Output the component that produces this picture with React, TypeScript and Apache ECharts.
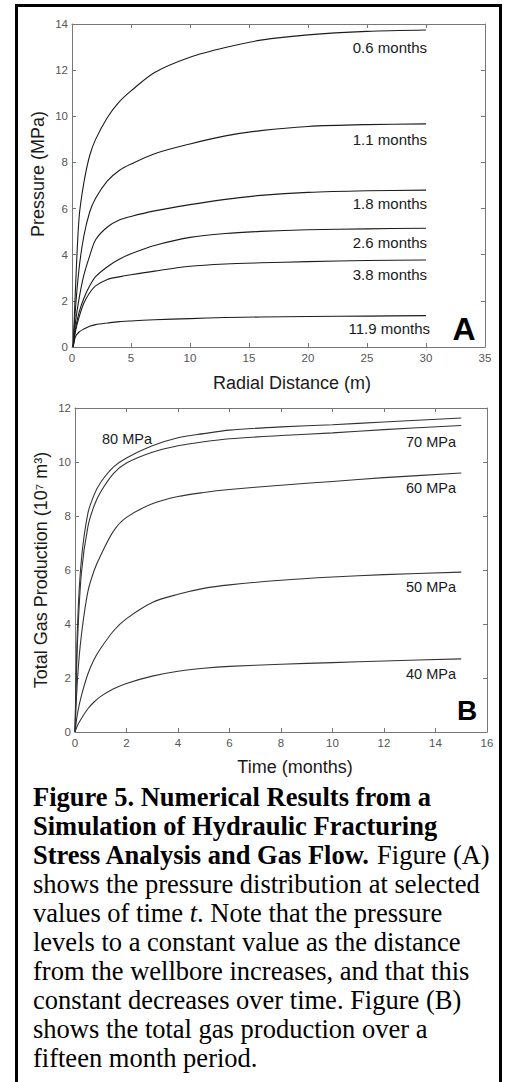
import React, { useEffect, useRef } from "react";
import * as echarts from "echarts";

// ---- Panel A: pressure vs radial distance ----
const radialDistance = [0.1, 0.3, 0.6, 1, 1.5, 2, 3, 4, 5, 7, 10, 13, 16, 20, 25, 30];
const pressure06 = [0, 2.6, 5.6, 7.1, 8.3, 9.0, 9.95, 10.62, 11.1, 11.9, 12.56, 12.98, 13.3, 13.53, 13.68, 13.74];
const pressure11 = [0, 1.7, 3.4, 4.8, 5.85, 6.45, 7.2, 7.65, 7.93, 8.38, 8.8, 9.15, 9.38, 9.56, 9.64, 9.67];
const pressure18 = [0, 1.1, 2.1, 3.1, 3.95, 4.65, 5.2, 5.5, 5.66, 5.9, 6.17, 6.4, 6.57, 6.7, 6.77, 6.8];
const pressure26 = [0, 0.8, 1.5, 2.1, 2.65, 3.05, 3.48, 3.8, 4.04, 4.4, 4.75, 4.92, 5.01, 5.08, 5.12, 5.15];
const pressure38 = [0, 0.7, 1.3, 1.9, 2.35, 2.65, 2.93, 3.04, 3.13, 3.29, 3.5, 3.6, 3.65, 3.7, 3.75, 3.77];
const pressure119 = [0, 0.45, 0.65, 0.78, 0.9, 0.97, 1.04, 1.1, 1.13, 1.18, 1.23, 1.28, 1.3, 1.32, 1.34, 1.36];
const pressureNames = ["0.6 months", "1.1 months", "1.8 months", "2.6 months", "3.8 months", "11.9 months"];
const pressureTicksX = { min: 0, max: 35, interval: 5 };
const pressureTicksY = { min: 0, max: 14, interval: 2 };

// ---- Panel B: total gas production vs time ----
const timeMonths = [0, 0.1, 0.25, 0.5, 0.75, 1, 1.5, 2, 3, 4, 5, 6, 8, 10, 12, 15];
const gas80 = [0, 4.0, 6.4, 8.1, 8.8, 9.25, 9.82, 10.15, 10.6, 10.9, 11.05, 11.18, 11.3, 11.38, 11.48, 11.63];
const gas70 = [0, 3.4, 5.9, 7.6, 8.4, 8.9, 9.58, 9.96, 10.36, 10.6, 10.75, 10.86, 10.98, 11.08, 11.2, 11.35];
const gas60 = [0, 2.0, 3.6, 5.2, 6.0, 6.55, 7.45, 7.95, 8.45, 8.72, 8.87, 8.98, 9.14, 9.28, 9.42, 9.59];
const gas50 = [0, 0.7, 1.35, 2.15, 2.7, 3.1, 3.75, 4.2, 4.8, 5.1, 5.32, 5.45, 5.62, 5.74, 5.83, 5.92];
const gas40 = [0, 0.25, 0.5, 0.86, 1.12, 1.32, 1.6, 1.8, 2.07, 2.25, 2.36, 2.43, 2.51, 2.57, 2.63, 2.71];
const gasNames = ["80 MPa", "70 MPa", "60 MPa", "50 MPa", "40 MPa"];
const gasTicksX = { min: 0, max: 16, interval: 2 };
const gasTicksY = { min: 0, max: 12, interval: 2 };

const SANS = "'Liberation Sans', Arial, sans-serif";
const SERIF = "'Liberation Serif', 'Times New Roman', serif";
const AXIS_COLOR = "#777";
const LABEL_COLOR = "#555";

function pairs(xs: number[], ys: number[]) {
  return xs.map((x, i) => [x, ys[i]]);
}

function boxAxes(gridIndex: number, ticks: { min: number; max: number; interval: number }, dim: "x" | "y") {
  const common = {
    gridIndex,
    type: "value" as const,
    min: ticks.min,
    max: ticks.max,
    interval: ticks.interval,
    splitLine: { show: false },
    axisLine: { show: true, onZero: false, lineStyle: { color: AXIS_COLOR, width: 1 } },
    axisTick: { show: true, inside: true, length: 4, lineStyle: { color: AXIS_COLOR, width: 1 } },
  };
  const main = {
    ...common,
    position: dim === "x" ? "bottom" : "left",
    axisLabel: { show: true, color: LABEL_COLOR, fontSize: 11.5, fontFamily: SANS, margin: dim === "x" ? 5 : 4 },
  };
  const opp = {
    ...common,
    position: dim === "x" ? "top" : "right",
    axisLabel: { show: false },
  };
  return [main, opp];
}

function lineSeries(name: string, data: number[][], axisIdx: number, color: string) {
  return {
    name,
    type: "line",
    xAxisIndex: axisIdx,
    yAxisIndex: axisIdx,
    data,
    smooth: 0.3,
    showSymbol: false,
    symbol: "none",
    lineStyle: { color, width: 1.1 },
  };
}

const captionLines: Array<Array<[string, string]>> = [
  [["b", "Figure 5. Numerical Results from a"]],
  [["b", "Simulation of Hydraulic Fracturing"]],
  [["b", "Stress Analysis and Gas Flow."], ["n", " Figure (A)"]],
  [["n", "shows the pressure distribution at selected"]],
  [["n", "values of time "], ["i", "t"], ["n", ". Note that the pressure"]],
  [["n", "levels to a constant value as the distance"]],
  [["n", "from the wellbore increases, and that this"]],
  [["n", "constant decreases over time. Figure (B)"]],
  [["n", "shows the total gas production over a"]],
  [["n", "fifteen month period."]],
];

export default function App() {
  const ref = useRef<HTMLDivElement>(null);
  useEffect(() => {
    if (!ref.current) return;
    const chart = echarts.init(ref.current, null, { renderer: "svg" });
    const [xa0, xa1] = boxAxes(0, pressureTicksX, "x");
    const [ya0, ya1] = boxAxes(0, pressureTicksY, "y");
    const [xb0, xb1] = boxAxes(1, gasTicksX, "x");
    const [yb0, yb1] = boxAxes(1, gasTicksY, "y");

    const pressureSets = [pressure06, pressure11, pressure18, pressure26, pressure38, pressure119];
    const gasSets = [gas80, gas70, gas60, gas50, gas40];

    const seriesA = pressureSets.map((s, i) => lineSeries(pressureNames[i], pairs(radialDistance, s), 0, "#1c1c1c"));
    const seriesB = gasSets.map((s, i) => ({
      ...lineSeries(gasNames[i], pairs(timeMonths, s), 0, "#333"),
      xAxisIndex: 2,
      yAxisIndex: 2,
    }));

    const labelA = [
      { t: pressureNames[0], x: 427, y: 47 },
      { t: pressureNames[1], x: 427, y: 139 },
      { t: pressureNames[2], x: 427, y: 203 },
      { t: pressureNames[3], x: 427, y: 242 },
      { t: pressureNames[4], x: 427, y: 274 },
      { t: pressureNames[5], x: 430, y: 328 },
    ];
    const labelB = [
      { t: gasNames[0], x: 102, y: 439, align: "left" },
      { t: gasNames[1], x: 456, y: 442, align: "right" },
      { t: gasNames[2], x: 456, y: 488, align: "right" },
      { t: gasNames[3], x: 456, y: 587, align: "right" },
      { t: gasNames[4], x: 456, y: 674, align: "right" },
    ];

    const graphics: any[] = [
      {
        type: "rect",
        shape: { x: 16.5, y: 5.5, width: 484, height: 1100 },
        style: { fill: "none", stroke: "#000", lineWidth: 3 },
        silent: true,
      },
      ...labelA.map((l) => ({
        type: "text",
        x: l.x,
        y: l.y,
        style: { text: l.t, fill: "#1a1a1a", font: `15px ${SANS}`, align: "right", verticalAlign: "middle" },
      })),
      ...labelB.map((l) => ({
        type: "text",
        x: l.x,
        y: l.y,
        style: { text: l.t, fill: "#1a1a1a", font: `14.5px ${SANS}`, align: l.align, verticalAlign: "middle" },
      })),
      {
        type: "text",
        x: 464,
        y: 329,
        style: { text: "A", fill: "#000", font: `bold 32px ${SANS}`, align: "center", verticalAlign: "middle" },
      },
      {
        type: "text",
        x: 467,
        y: 710,
        style: { text: "B", fill: "#000", font: `bold 28px ${SANS}`, align: "center", verticalAlign: "middle" },
      },
      {
        type: "text",
        x: 292,
        y: 383,
        style: { text: "Radial Distance (m)", fill: "#1a1a1a", font: `18px ${SANS}`, align: "center", verticalAlign: "middle" },
      },
      {
        type: "text",
        x: 37.5,
        y: 174,
        rotation: Math.PI / 2,
        style: { text: "Pressure (MPa)", fill: "#1a1a1a", font: `18px ${SANS}`, align: "center", verticalAlign: "middle" },
      },
      {
        type: "text",
        x: 295,
        y: 767,
        style: { text: "Time (months)", fill: "#1a1a1a", font: `18px ${SANS}`, align: "center", verticalAlign: "middle" },
      },
      {
        type: "text",
        x: 40.5,
        y: 570,
        rotation: Math.PI / 2,
        style: {
          text: "Total Gas Production (10⁷ m³)",
          fill: "#1a1a1a",
          font: `18px ${SANS}`,
          align: "center",
          verticalAlign: "middle",
        },
      },
      ...captionLines.map((line, i) => ({
        type: "text",
        x: 33,
        y: 797 + i * 29,
        style: {
          text: line.map(([k, s]) => `{${k}|${s}}`).join(""),
          align: "left",
          verticalAlign: "middle",
          rich: {
            b: { fontFamily: SERIF, fontSize: 26.5, fontWeight: "bold", fill: "#000" },
            n: { fontFamily: SERIF, fontSize: 26.5, fill: "#000" },
            i: { fontFamily: SERIF, fontSize: 26.5, fontStyle: "italic", fill: "#000" },
          },
        },
      })),
    ];

    chart.setOption({
      animation: false,
      backgroundColor: "#fff",
      textStyle: { fontFamily: SANS },
      grid: [
        { left: 72, top: 24, width: 413, height: 323 },
        { left: 75, top: 408, width: 412, height: 324 },
      ],
      xAxis: [xa0, xa1, xb0, xb1],
      yAxis: [ya0, ya1, yb0, yb1],
      series: [...seriesA, ...seriesB],
      graphic: graphics,
    });
    return () => chart.dispose();
  }, []);
  return <div ref={ref} style={{ position: "absolute", left: 0, top: 0, width: 506, height: 1082 }} />;
}
